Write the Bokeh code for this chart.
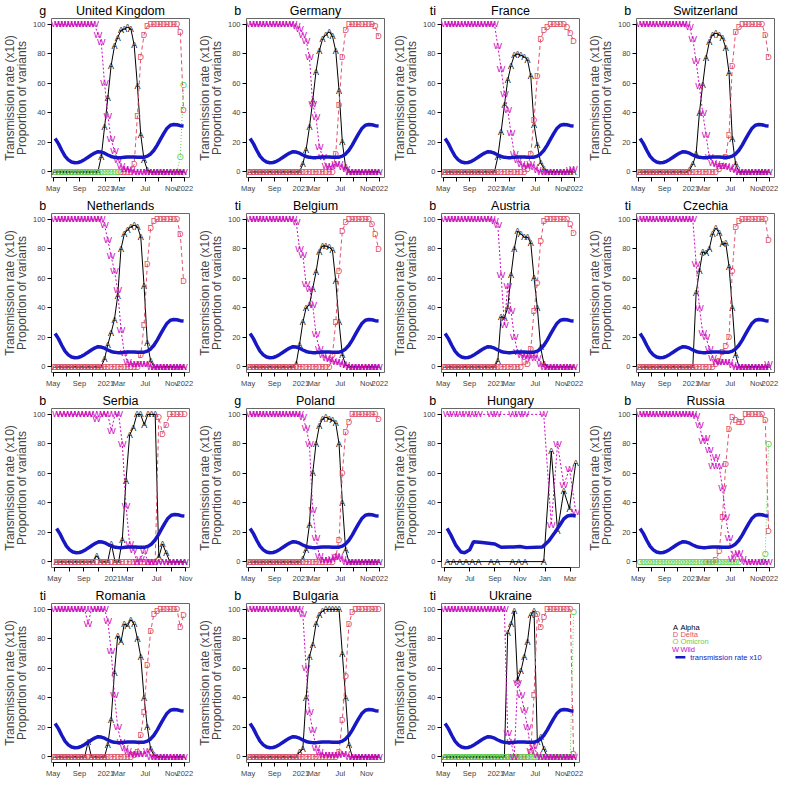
import numpy as np
from bokeh.plotting import figure
from bokeh.layouts import gridplot
from bokeh.models import FixedTicker, Range1d, LinearAxis, ColumnDataSource
from bokeh.core.properties import value
from bokeh.embed import file_html
from bokeh.resources import INLINE

FONT = "Liberation Sans"
C_A, C_D, C_O, C_W, C_T = "black", "#DF536B", "#61D04F", "#CD0BBC", "#1717C4"

# ---- shared transmission rate (x10), half-monthly samples ----
BLUE_V = [22.5, 19, 14.5, 10.5, 8, 6.5, 6, 6.2, 7, 8.3, 9.8, 11.3, 12.6, 13.5, 13.3, 12.5,
          11.3, 10.3, 9.7, 9.5, 9.5, 9.7, 9.9, 10, 10, 9.8, 9.7, 9.8, 10.5, 12, 14.5, 18,
          22, 26, 29.5, 31.5, 32, 31.8, 31.2, 31]

# ---- axis ticks ----
STD_TICKS = [4, 6, 8, 10, 12, 14, 16, 18, 20, 22, 24]
STD_LABELS = ["May", "", "Sep", "", "2021", "Mar", "", "Jul", "", "Nov", "2022"]
SHORT_TICKS = [4, 6, 8, 10, 12, 14, 16, 18, 20, 22]
SHORT_LABELS = ["May", "", "Sep", "", "2021", "Mar", "", "Jul", "", "Nov"]
HU_TICKS = [4, 6, 8, 10, 12, 14]
HU_LABELS = ["May", "Jul", "Sep", "Nov", "Jan", "Mar"]

N = None
# ---- United Kingdom ----
UK_W = [100,100,100,100,100,100,100,100,100,100,100,100,100,93,88,60,38,22,14,8,4,2,2,1,0,0,0,0,0,0,0,0,0,0,0,0,0,0,0,0]
UK_A = [0,0,0,0,0,0,0,0,0,0,0,0,0,0,10,30,50,72,85,91,96,97,98,97,86,58,25,8,1,0,0,0,0,0,0,0,0,0,0,0]
UK_D = [N,N,N,N,N,N,N,N,N,N,N,N,N,N,N,N,N,N,N,N,0,0,0,0,5,38,78,93,99,100,100,100,100,100,100,100,100,100,95,42]
UK_O = [0,0,0,0,0,0,0,0,0,0,0,0,0,0,0,0,0,0,0,0,N,N,N,N,N,N,N,N,N,N,N,N,N,N,N,N,N,0,10,59]
# ---- Germany ----
GER_W = [100,100,100,100,100,100,100,100,100,100,100,100,100,100,99,97,93,89,78,46,37,17,10,4,3,4,5,5,3,2,0,0,0,0,0,0,0,0,0,0]
GER_A = [0,0,0,0,0,0,0,0,0,0,0,0,0,0,0,0,5,15,30,48,68,82,90,93,95,92,82,55,20,3,0,0,0,0,0,0,0,0,0,0]
GER_D = [0,0,0,0,0,0,0,0,0,0,0,0,0,0,0,0,0,0,0,0,0,0,0,0,0,0,12,45,78,96,100,100,100,100,100,100,100,100,99,92]
# ---- France ----
FRA_W = [100,100,100,100,100,100,100,100,100,100,100,100,100,100,100,100,85,70,53,42,26,12,8,5,4,4,5,3,1,0,0,0,0,0,0,0,0,0,1,2]
FRA_A = [0,0,0,0,0,0,0,0,0,0,0,0,0,0,0,0,10,27,45,62,72,79,80,79,78,76,65,32,18,6,2,0,0,0,0,0,0,0,0,0]
FRA_D = [0,0,0,0,0,0,0,0,0,0,0,0,0,0,0,0,0,0,0,0,0,0,0,0,0,2,12,35,65,90,96,98,100,100,100,100,100,98,94,89]
# ---- Switzerland ----
SUI_W = [100,100,100,100,100,100,100,100,100,100,100,100,100,100,100,98,90,75,58,40,25,10,6,5,4,4,4,3,2,1,0,0,0,0,0,0,0,0,0,0]
SUI_A = [0,0,0,0,0,0,0,0,0,0,0,0,0,0,0,1,5,12,40,59,77,88,93,94,93,91,84,67,22,5,0,0,0,0,0,0,0,0,0,0]
SUI_D = [0,0,0,0,0,0,0,0,0,0,0,0,0,0,0,0,0,0,0,0,0,0,0,0,2,4,10,25,72,95,98,100,100,100,100,100,100,100,93,78]
# ---- Netherlands ----
NED_W = [100,100,100,100,100,100,100,100,100,100,100,100,100,100,100,96,86,75,65,52,25,9,3,2,2,2,2,2,2,0,0,0,0,0,0,0,0,0,0,0]
NED_A = [0,0,0,0,0,0,0,0,0,0,0,0,0,0,0,5,15,23,32,48,80,90,93,95,96,95,88,55,16,4,0,0,0,0,0,0,0,0,0,0]
NED_D = [0,0,0,0,0,0,0,0,0,0,0,0,0,0,0,0,0,0,0,0,0,0,0,0,0,0,8,28,70,94,99,100,100,100,100,100,100,100,90,58]
# ---- Belgium ----
BEL_W = [100,100,100,100,100,100,100,100,100,100,100,100,100,100,98,80,76,56,53,42,22,12,8,6,5,4,3,3,2,1,0,0,0,0,0,0,0,0,0,0]
BEL_A = [0,0,0,0,0,0,0,0,0,0,0,0,0,0,2,15,30,40,42,53,64,78,82,82,81,79,58,30,8,1,0,0,0,0,0,0,0,0,0,0]
BEL_D = [0,0,0,0,0,0,0,0,0,0,0,0,0,0,0,0,0,0,0,0,0,0,0,0,0,8,30,65,92,98,100,100,100,100,100,100,100,97,90,80]
# ---- Austria ----
AUT_W = [100,100,100,100,100,100,100,100,100,100,100,100,100,100,100,99,96,62,28,55,38,20,10,8,7,7,6,8,6,2,0,0,0,0,0,0,0,0,0,0]
AUT_A = [0,0,0,0,0,0,0,0,0,0,0,0,0,0,0,0,4,34,33,40,62,80,92,90,88,88,84,60,40,13,2,0,0,0,0,0,0,0,0,0]
AUT_D = [0,0,0,0,0,0,0,0,0,0,0,0,0,0,0,0,0,0,0,0,0,0,0,0,3,2,12,38,57,85,99,100,100,100,100,100,100,100,97,91]
# ---- Czechia ----
CZE_W = [100,100,100,100,100,100,100,100,100,100,100,100,100,100,100,100,100,70,40,23,20,12,6,3,3,3,3,3,1,0,0,0,0,0,0,0,0,0,0,2]
CZE_A = [0,0,0,0,0,0,0,0,0,0,0,0,0,0,0,0,0,50,65,78,77,80,90,94,91,83,84,68,40,8,0,0,0,0,0,0,0,0,0,0]
CZE_D = [0,0,0,0,0,0,0,0,0,0,0,0,0,0,0,0,0,0,0,0,0,0,0,2,4,10,14,20,65,95,99,100,100,100,100,100,100,100,100,86]
# ---- Serbia ----
SRB_W = [100,100,100,100,100,100,100,100,100,100,100,97,100,100,100,89,100,100,80,38,12,8,0,2,7,0,0,0,0,0,0,0,0,0,0,0]
SRB_A = [0,0,0,0,0,0,0,0,0,0,0,4,0,0,0,12,0,0,15,55,86,91,100,100,93,100,100,100,3,12,6,0,0,0,0,0]
SRB_D = [0,0,0,0,0,0,0,0,0,0,0,0,0,0,0,0,0,0,0,0,0,0,0,0,0,0,0,0,98,87,93,100,100,100,100,100]
# ---- Poland ----
POL_W = [100,100,100,100,100,100,100,100,100,100,100,100,100,100,100,100,98,91,80,35,16,4,1,1,1,2,3,4,2,0,0,0,0,0,0,0,0,0,0,0]
POL_A = [0,0,0,0,0,0,0,0,0,0,0,0,0,0,0,0,2,8,25,60,80,92,97,98,97,96,94,80,40,8,0,0,0,0,0,0,0,0,0,0]
POL_D = [0,0,0,0,0,0,0,0,0,0,0,0,0,0,0,0,0,0,0,0,0,0,0,0,0,0,3,15,60,88,95,100,100,100,100,100,100,100,100,97]
# ---- Hungary (own dates, months since Jan 2020) ----
HU_DATES = [4.2, 4.7, 5.2, 5.7, 6.2, 6.7, 7.7, 8.2, 9.4, 9.9, 10.4, 11.9, 12.5, 13.0, 13.5, 13.95, 14.45]
HU_W = [100,100,100,100,100,100,100,100,100,100,100,100,25,80,52,63,34]
HU_A = [0,0,0,0,0,0,0,0,0,0,0,0,75,21,48,36,67]
HU_BLUE_DATES = [4.2, 4.5, 4.9, 5.3, 5.6, 6.0, 6.3, 7.0, 8.0, 8.5, 9.5, 10.0, 10.5, 11.8, 12.3, 12.8, 13.2, 13.5, 13.8, 14.1, 14.45]
HU_BLUE_V = [22.5, 18, 11, 6.5, 6, 8, 13.5, 13, 12, 9.8, 10, 10.3, 9.5, 10, 14, 20, 25, 29, 31, 31.5, 31]
# ---- Russia ----
RUS_W = [100,100,100,100,100,100,100,100,100,100,100,100,100,100,100,100,100,99,93,82,84,76,65,71,65,50,30,16,2,5,6,2,0,0,0,0,0,0,0,0]
RUS_D = [N,N,N,N,N,N,N,N,N,N,N,N,N,N,N,N,N,N,N,N,0,0,0,1,7,30,66,90,98,96,95,95,100,100,100,100,100,100,96,21]
RUS_O = [0,0,0,0,0,0,0,0,0,0,0,0,0,0,0,0,0,0,0,0,0,0,0,0,0,0,0,0,0,0,0,N,N,N,N,N,N,0,5,80]
# ---- Romania ----
ROU_W = [100,100,100,100,100,100,100,100,100,100,90,100,100,100,100,100,92,72,42,20,10,6,4,2,2,2,2,2,4,0,0,0,0,0,0,0,0,0,0,0]
ROU_A = [0,0,0,0,0,0,0,0,0,0,10,0,0,0,0,0,8,25,57,82,78,90,89,93,90,80,68,40,20,5,1,0,0,0,0,0,0,0,0,0]
ROU_D = [0,0,0,0,0,0,0,0,0,0,0,0,0,0,0,0,0,0,0,0,0,0,0,0,1,3,15,30,62,85,97,99,100,100,100,100,100,100,88,96]
# ---- Bulgaria ----
BUL_W = [100,100,100,100,100,100,100,100,100,100,100,100,100,100,100,100,97,60,30,18,6,3,1,1,1,1,1,1,2,2,0,0,0,0,0,0,0,0,0,0]
BUL_A = [0,0,0,0,0,0,0,0,0,0,0,0,0,0,0,3,5,40,68,76,90,96,99,100,100,100,100,100,70,40,8,0,0,0,0,0,0,0,0,0]
BUL_D = [0,0,0,0,0,0,0,0,0,0,0,0,0,0,0,0,0,0,0,0,0,0,0,0,0,0,0,3,25,55,90,98,100,100,100,100,100,100,100,100]
# ---- Ukraine ----
UKR_W = [100,100,100,100,100,100,100,100,100,100,100,100,100,100,100,100,100,100,100,16,10,0,50,42,32,20,4,7,1,0,0,0,0,0,0,0,0,0,0,0]
UKR_A = [0,0,0,0,0,0,0,0,0,0,0,0,0,0,0,0,0,0,0,84,90,99,52,58,68,78,96,99,10,13,5,0,0,0,0,0,0,0,0,0]
UKR_D = [N,N,N,N,N,N,N,N,N,N,N,N,N,N,N,N,N,N,N,0,0,0,0,0,0,0,3,42,97,88,95,100,100,100,100,100,100,100,100,2]
UKR_O = [0,0,0,0,0,0,0,0,0,0,0,0,0,0,0,0,0,0,0,0,0,0,0,0,0,0,0,0,0,0,0,0,0,0,0,0,0,0,0,98]

FIRST_DATE, STEP = 4.3, 0.5   # first half-monthly date (months since Jan 2020)

PANELS = [
    ("United Kingdom", "g", dict(A=UK_A, D=UK_D, O=UK_O, W=UK_W), "std"),
    ("Germany", "b", dict(A=GER_A, D=GER_D, W=GER_W), "std"),
    ("France", "ti", dict(A=FRA_A, D=FRA_D, W=FRA_W), "std"),
    ("Switzerland", "b", dict(A=SUI_A, D=SUI_D, W=SUI_W), "std"),
    ("Netherlands", "b", dict(A=NED_A, D=NED_D, W=NED_W), "std"),
    ("Belgium", "ti", dict(A=BEL_A, D=BEL_D, W=BEL_W), "std"),
    ("Austria", "b", dict(A=AUT_A, D=AUT_D, W=AUT_W), "std"),
    ("Czechia", "ti", dict(A=CZE_A, D=CZE_D, W=CZE_W), "std"),
    ("Serbia", "b", dict(A=SRB_A, D=SRB_D, W=SRB_W), "short"),
    ("Poland", "g", dict(A=POL_A, D=POL_D, W=POL_W), "std"),
    ("Hungary", "b", dict(A=HU_A, W=HU_W), "hu"),
    ("Russia", "b", dict(D=RUS_D, O=RUS_O, W=RUS_W), "std"),
    ("Romania", "ti", dict(A=ROU_A, D=ROU_D, W=ROU_W), "std"),
    ("Bulgaria", "b", dict(A=BUL_A, D=BUL_D, W=BUL_W), "bul"),
    ("Ukraine", "ti", dict(A=UKR_A, D=UKR_D, O=UKR_O, W=UKR_W), "std"),
]

STYLE = {"A": (C_A, "solid"), "D": (C_D, "4 3"), "O": (C_O, "1 2"), "W": (C_W, "2 2")}
W, H = 195, 195
NBSP = "\u00a0"


def clean(vals):
    return np.array([np.nan if v is None else v for v in vals], dtype=float)


def make_panel(name, corner, series, kind):
    n = len(next(iter(series.values())))
    if kind == "hu":
        dates = np.array(HU_DATES)
        bt, bv = np.array(HU_BLUE_DATES), np.array(HU_BLUE_V)
        ticks, labels, xr = HU_TICKS, HU_LABELS, (3.75, 14.75)
    else:
        dates = FIRST_DATE + STEP * np.arange(n)
        bv = np.array(BLUE_V)
        bt = np.linspace(dates[0], dates[-1], len(bv))
        if kind == "short":
            ticks, labels, xr = SHORT_TICKS, SHORT_LABELS, (3.6, 22.5)
        elif kind == "bul":
            ticks, labels, xr = SHORT_TICKS, SHORT_LABELS, (3.75, 24.7)
        else:
            ticks, labels, xr = STD_TICKS, STD_LABELS, (3.75, 24.7)

    p = figure(width=W, height=H, x_range=Range1d(*xr), y_range=Range1d(-4, 104),
               output_backend="svg", toolbar_location=None,
               min_border_left=42, min_border_right=6, min_border_top=0, min_border_bottom=18)
    p.grid.visible = False
    p.outline_line_color = "#666666"
    p.background_fill_color = "white"
    p.border_fill_color = "white"

    xa = p.below[0]
    xa.ticker = FixedTicker(ticks=ticks)
    xa.major_label_overrides = {t: l for t, l in zip(ticks, labels)}
    xa.bounds = (ticks[0], ticks[-1])
    ya = p.left[0]
    ya.ticker = FixedTicker(ticks=[0, 20, 40, 60, 80, 100])
    ya.bounds = (0, 100)
    ya.axis_label = "Transmission rate (x10)\nProportion of variants"
    ya.axis_label_text_font = FONT
    ya.axis_label_text_font_size = "12px"
    ya.axis_label_text_font_style = "normal"
    ya.axis_label_standoff = 1
    ya.axis_label_text_line_height = 0.85
    for ax in (xa, ya):
        ax.major_tick_in = 0
        ax.major_tick_out = 4
        ax.minor_tick_line_color = None
        ax.major_label_text_font = FONT
        ax.major_label_text_font_size = "7.5px"
        ax.major_label_standoff = 2
        ax.axis_line_color = "black"
        ax.major_tick_line_color = "black"

    # title row: panel letter at the left corner, country name centred
    xc = (xr[0] + xr[1]) / 2
    top = LinearAxis(ticker=FixedTicker(ticks=[xr[0], xc]),
                     major_label_overrides={xr[0]: corner + NBSP * 5, xc: name})
    top.axis_line_color = None
    top.major_tick_line_color = None
    top.minor_tick_line_color = None
    top.major_tick_out = 0
    top.major_tick_in = 0
    top.major_label_standoff = 1
    top.major_label_text_font = FONT
    top.major_label_text_font_size = "12.5px"
    top.major_label_text_font_style = "normal"
    top.major_label_text_color = "black"
    p.add_layout(top, "above")

    for key in ("A", "D", "O", "W"):
        if key not in series:
            continue
        color, dash = STYLE[key]
        y = clean(series[key])
        src = ColumnDataSource(dict(x=dates, y=y, s=[key] * len(dates)))
        p.line("x", "y", source=src, line_color=color, line_dash=dash, line_width=1)
        p.text("x", "y", text="s", source=src, text_color=color, text_align="center",
               text_baseline="middle", text_font=value(FONT), text_font_size="9px")

    p.line(bt, bv, line_color=C_T, line_width=3.5)
    return p


figs = [make_panel(*pp) for pp in PANELS]

# ---- legend cell ----
LEG_KEYS = ["A", "D", "O", "W"]
LEG_NAMES = ["Alpha", "Delta", "Omicron", "Wild"]
LEG_COLORS = [C_A, C_D, C_O, C_W]
lg = figure(width=W, height=H, x_range=Range1d(0, W), y_range=Range1d(H, 0),
            x_axis_type=None, y_axis_type=None, output_backend="svg", toolbar_location=None,
            min_border=0)
lg.grid.visible = False
lg.outline_line_color = None
rows_y = [29 + 9 * i for i in range(4)]
lg.text(x=[55] * 4, y=rows_y, text=LEG_KEYS, text_color=LEG_COLORS, text_align="center",
        text_baseline="middle", text_font=value(FONT), text_font_size="7.5px")
lg.text(x=[62] * 4, y=rows_y, text=LEG_NAMES, text_color=LEG_COLORS, text_align="left",
        text_baseline="middle", text_font=value(FONT), text_font_size="7.5px")
lg.line(x=[55, 69], y=[66, 66], line_color=C_T, line_width=2.5)
lg.text(x=[76], y=[66], text=["transmission rate x10"], text_color=C_T, text_align="left",
        text_baseline="middle", text_font=value(FONT), text_font_size="7.5px")
figs.append(lg)

grid = gridplot([figs[i:i + 4] for i in range(0, 16, 4)], toolbar_location=None)
open("out.html", "w").write(file_html(grid, INLINE))
